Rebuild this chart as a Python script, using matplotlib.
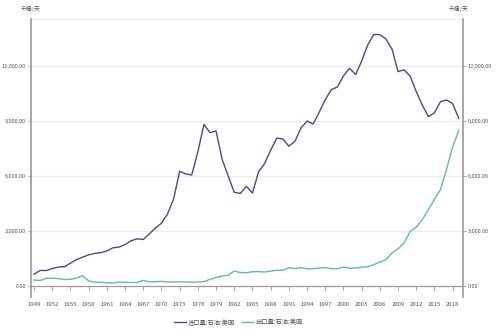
import matplotlib.pyplot as plt
import numpy as np

plt.rcParams['font.family'] = ['Noto Sans CJK SC', 'DejaVu Sans']

years = list(range(1949, 2020))

# 进口量 (千桶/天)
imports = [645, 850, 844, 952, 1034, 1052, 1248, 1436, 1574, 1700,
           1780, 1815, 1917, 2082, 2123, 2259, 2468, 2573, 2537, 2840,
           3166, 3419, 3926, 4741, 6256, 6112, 6056, 7313, 8807, 8363,
           8456, 6909, 5996, 5113, 5051, 5437, 5067, 6224, 6678, 7402,
           8061, 8018, 7627, 7888, 8620, 8996, 8835, 9478, 10162, 10708,
           10852, 11459, 11871, 11530, 12264, 13145, 13714, 13707, 13468, 12915,
           11691, 11793, 11436, 10598, 9859, 9241, 9449, 10055, 10144, 9943,
           9141]

# 出口量 (千桶/天)
exports = [327, 305, 422, 432, 402, 356, 368, 430, 568, 276,
           211, 202, 174, 168, 208, 202, 187, 198, 307, 231,
           233, 259, 224, 222, 231, 221, 209, 223, 243, 362,
           471, 544, 595, 815, 739, 722, 781, 785, 764, 815,
           859, 857, 1001, 950, 1003, 942, 949, 981, 1003, 945,
           940, 1040, 971, 984, 1027, 1048, 1165, 1317, 1433, 1802,
           2024, 2353, 2986, 3205, 3621, 4176, 4738, 5261, 6376, 7601,
           8471]

xticks = list(range(1949, 2019, 3))
yticks = [0, 3000, 6000, 9000, 12000]

c_imp = '#4a4c86'
c_exp = '#5fbf9c'
axis_c = '#9a9a9a'
txt_c = '#555555'

fig = plt.figure(figsize=(5, 3.33), dpi=100)
ax = fig.add_axes([0.062, 0.108, 0.864, 0.835])
ymin, ymax = -600, 14560
ax.set_ylim(ymin, ymax)
ax.set_xlim(1948.5, 2019.7)

for y in yticks[1:] + [ymax]:
    ax.axhline(y, color='#ececec', lw=0.8, zorder=0)
ax.axhline(0, color=axis_c, lw=0.9, zorder=1)

ax.plot(years, imports, color=c_imp, lw=1.0, label='进口量:石油:美国', zorder=3)
ax.plot(years, exports, color=c_exp, lw=1.0, label='出口量:石油:美国', zorder=3)

for s in ['top', 'bottom']:
    ax.spines[s].set_visible(False)
for s in ['left', 'right']:
    ax.spines[s].set_color(axis_c)
    ax.spines[s].set_linewidth(1.2)

ax.set_yticks(yticks)
ax.set_yticklabels([f'{v:,.2f}' for v in yticks])
ax.tick_params(axis='y', length=2, width=0.6, color=axis_c, labelsize=4,
               labelcolor=txt_c, pad=1.5)
ax.set_xticks(xticks)
ax.set_xticklabels([str(x) for x in xticks])
ax.tick_params(axis='x', length=0, labelsize=4.3, labelcolor=txt_c, pad=3.5)
for x in xticks:
    ax.plot([x, x], [0, -230], color=axis_c, lw=0.6, clip_on=False, zorder=1)

ax2 = ax.twinx()
ax2.set_ylim(ymin, ymax)
ax2.set_yticks(yticks)
ax2.set_yticklabels([f'{v:,.2f}' for v in yticks])
ax2.tick_params(axis='y', length=2, width=0.6, color=axis_c, labelsize=4,
                labelcolor=txt_c, pad=1.5)
for s in ax2.spines.values():
    s.set_visible(False)

fig.text(0.062, 0.972, '千桶/天', fontsize=4.2, color=txt_c, ha='center', va='center')
fig.text(0.918, 0.972, '千桶/天', fontsize=4.2, color=txt_c, ha='center', va='center')

fig.legend(loc='center', bbox_to_anchor=(0.477, 0.031), ncol=2, frameon=False,
           fontsize=4.5, handlelength=1.8, handletextpad=0.4, columnspacing=1.0,
           labelcolor=txt_c)

fig.savefig('out.png', dpi=100)
